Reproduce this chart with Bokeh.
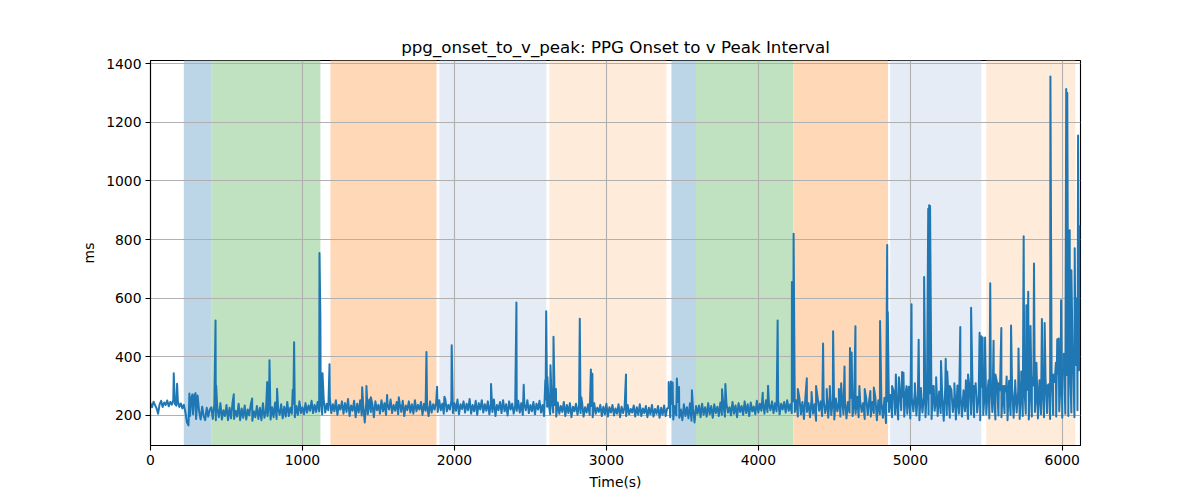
import numpy as np
from bokeh.plotting import figure
from bokeh.models import BoxAnnotation, Range1d, FixedTicker
from bokeh.embed import file_html
from bokeh.resources import INLINE

# ---------------- data ----------------
title_text = "ppg_onset_to_v_peak: PPG Onset to v Peak Interval"
x_label = "Time(s)"
y_label = "ms"
x_ticks = [0, 1000, 2000, 3000, 4000, 5000, 6000]
y_ticks = [200, 400, 600, 800, 1000, 1200, 1400]

# phase shading (start s, end s, colour)
phase_start = [219, 399, 1184, 1901, 2625, 3428, 3590, 4230, 4868, 5500]
phase_end = [399, 1118, 1882, 2605, 3395, 3590, 4230, 4853, 5467, 6086]
phase_color = ["#bcd6e8", "#c0e2c0", "#ffd9b7", "#e5ecf6", "#ffebd9",
               "#bcd6e8", "#c0e2c0", "#ffd9b7", "#e5ecf6", "#ffebd9"]

sample_step = 10  # seconds between baseline readings

base_0 = [242, 228, 247, 235, 224, 206, 238, 250, 229, 244, 236, 251, 231, 246, 237, 252, 240, 233, 248, 229, 241, 224]
base_1 = [236, 210, 176, 166, 198, 262, 204, 270, 188, 268, 214, 186, 230, 198, 184, 226, 196, 220]
base_2 = [228, 188, 238, 184, 222, 194, 242, 186, 218, 198, 236, 184, 226, 190, 244, 188, 216, 196, 240, 184,
          224, 192, 234, 186, 220, 200, 238, 182, 214, 194, 232, 188, 226, 184, 242, 192, 218, 198, 236, 186,
          228, 194, 244, 188, 222, 202, 238, 190, 230, 196, 246, 198, 226, 206, 240, 194, 232, 202, 248, 208,
          228, 204, 242, 210, 234, 216, 250, 208, 236, 212, 246, 214]
base_3 = [248, 204, 254, 210, 240, 218, 258, 208, 238, 214, 252, 202, 236, 220, 248, 206, 242, 212, 256, 198,
          234, 216, 250, 194, 240, 210, 252, 200, 232, 176, 246, 204, 254, 212, 238, 194, 248, 218, 236, 206,
          252, 214, 242, 202, 238, 220, 254, 208, 236, 216, 246, 204, 240, 212, 250, 198, 234, 218, 248, 210,
          238, 206, 252, 214, 236, 220, 246, 202, 240, 216, 234, 198, 248, 210, 238, 220]
base_4 = [246, 212, 252, 218, 240, 206, 256, 214, 236, 220, 250, 208, 242, 216, 254, 204, 238, 222, 248, 210,
          240, 218, 256, 206, 236, 214, 250, 202, 242, 220, 252, 210, 238, 216, 248, 204, 240, 212, 254, 198,
          236, 218, 246, 208, 252, 214, 238, 200, 248, 220, 240, 206, 234, 216, 250, 210, 242, 202, 238, 218,
          252, 208, 236, 214, 246, 204, 240, 220, 250, 210, 236, 198, 254, 230]
base_5 = [242, 204, 248, 210, 236, 196, 244, 206, 232, 212, 246, 198, 236, 208, 242, 194, 230, 214, 240, 202,
          234, 208, 244, 196, 228, 210, 238, 202, 232, 194, 242, 206, 226, 212, 236, 198, 230, 204, 240, 196,
          228, 210, 236, 200, 224, 206, 238, 194, 230, 208, 228, 198, 236, 204, 222, 210, 234, 196, 228, 202,
          238, 198, 224, 208, 232, 194, 226, 204, 236, 196, 222, 206, 232, 192, 226, 202, 234, 198, 224]
base_6 = [226, 194, 240, 186, 232, 200, 246, 192, 220, 184, 238, 198, 228, 190, 242, 182, 224, 176, 232]
base_7 = [206, 234, 194, 240, 202, 228, 196, 242, 204, 232, 192, 238, 208, 230, 198, 244, 202, 236, 196, 240,
          210, 228, 200, 246, 206, 234, 194, 242, 212, 232, 202, 248, 208, 238, 198, 244, 214, 230, 204, 250,
          210, 240, 216, 246, 206, 252, 212, 238, 218, 248, 208, 242, 214, 254, 204, 240, 220, 246, 210, 252,
          216, 238, 208, 248]
base_8 = [212, 252, 196, 260, 204, 246, 188, 264, 212, 242, 194, 256, 206, 238, 182, 262, 216, 248, 198, 254,
          208, 240, 192, 266, 202, 250, 186, 258, 214, 244, 196, 262, 204, 252, 190, 246, 210, 260, 198, 238,
          206, 264, 194, 250, 212, 242, 188, 258, 202, 254, 196, 246, 208, 262, 184, 252, 204, 244, 192, 260,
          174, 248]
base_9 = [212, 270, 194, 284, 204, 256, 186, 292, 218, 264, 196, 278, 206, 298, 190, 260, 214, 286, 200, 272,
          184, 294, 210, 262, 194, 290, 204, 276, 188, 300, 216, 258, 198, 282, 208, 268, 182, 296, 202, 274,
          192, 288, 212, 264, 186, 302, 206, 272, 196, 286, 214, 260, 188, 294, 204, 278, 194, 290, 210, 266,
          184, 298, 202, 280]
base_10 = [204, 292, 190, 306, 212, 278, 186, 314, 200, 286, 194, 300, 208, 282, 184, 318, 202, 292, 192, 308,
           210, 284, 188, 322, 198, 298, 206, 288, 186, 316, 196, 302, 212, 290, 190, 320, 204, 296, 194, 324,
           208, 306, 188, 332, 202, 314, 196, 342, 214, 328, 192, 352, 206, 338, 198, 362, 210, 346, 194, 372,
           218, 354]

# isolated spikes (time s, value ms)
spike_t = [153, 175, 256, 276, 296, 428, 432, 548, 669, 768, 783, 833, 936, 945,
           1112, 1118, 1132, 1178, 1393, 1421, 1450, 1557, 1634, 1816, 1886,
           1934, 1982, 2241, 2408, 2456, 2598, 2604, 2612, 2632, 2652, 2668,
           2825, 2835, 2898, 2908, 3129, 3410, 3425, 3436, 3464, 3478, 3563,
           3761, 3783, 4029, 4064, 4127, 4221, 4232, 4260, 4319, 4350, 4380,
           4426, 4450, 4470, 4492, 4530, 4545, 4567, 4603, 4614, 4639, 4665,
           4700, 4737, 4760, 4801, 4848, 4852, 4880, 4905, 4925, 4946, 4955,
           4975, 5008, 5030, 5055, 5070, 5091, 5118, 5124, 5130, 5154, 5170,
           5202, 5233, 5243, 5260, 5290, 5310, 5329, 5366, 5380, 5400, 5420,
           5430, 5456, 5467, 5476, 5492, 5515, 5526, 5548, 5560, 5583, 5599,
           5620, 5634, 5650, 5663, 5690, 5712, 5730, 5746, 5764, 5776, 5791,
           5800, 5814, 5830, 5850, 5866, 5884, 5900, 5922, 5940, 5958, 5967,
           5977, 5992, 6000, 6010, 6026, 6033, 6040, 6049, 6060, 6070, 6082,
           6087, 6092, 6098, 6104, 6113]
spike_v = [344, 308, 275, 272, 276, 524, 302, 272, 258, 314, 388, 291, 288, 450,
           754, 531, 344, 375, 296, 300, 262, 270, 262, 416, 298,
           264, 439, 307, 585, 305, 320, 555, 331, 371, 468, 290,
           530, 262, 357, 342, 340, 314, 316, 312, 326, 297, 286,
           289, 307, 277, 301, 524, 655, 820, 290, 327, 280, 300,
           445, 290, 300, 487, 290, 310, 367, 430, 415, 504, 300,
           290, 283, 295, 522, 781, 553, 300, 340, 330, 348, 346,
           300, 579, 310, 458, 290, 672, 905, 917, 914, 300, 330,
           386, 393, 350, 300, 310, 290, 502, 320, 340, 567, 300,
           310, 482, 470, 466, 466, 320, 651, 455, 340, 310, 498,
           300, 333, 290, 507, 320, 428, 350, 811, 576, 622, 505,
           330, 718, 380, 320, 529, 515, 300, 1356, 340, 380, 460,
           462, 593, 360, 410, 1313, 1300, 480, 832, 695, 420, 770,
           380, 600, 470, 1155, 849]

# ---------------- assemble ----------------
base_v = np.array(base_0 + base_1 + base_2 + base_3 + base_4 + base_5 + base_6
                  + base_7 + base_8 + base_9 + base_10, dtype=float)
base_t = np.arange(len(base_v)) * sample_step
all_t = np.concatenate([base_t, np.array(spike_t, dtype=float)])
all_v = np.concatenate([base_v, np.array(spike_v, dtype=float)])
order = np.argsort(all_t, kind="stable")
t = all_t[order]
v = all_v[order]

FONT = "DejaVu Sans"

p = figure(width=1200, height=500, output_backend="svg", toolbar_location=None,
           x_range=Range1d(0, 6120), y_range=Range1d(97.5, 1410.5),
           min_border_left=150, min_border_right=120, min_border_top=60,
           min_border_bottom=55, title=title_text)

p.title.text_font = FONT
p.title.text_font_size = "16.7px"
p.title.text_font_style = "normal"
p.title.align = "center"
p.title.text_color = "black"
p.title.standoff = 8

for s, e, c in zip(phase_start, phase_end, phase_color):
    p.add_layout(BoxAnnotation(left=s, right=e, fill_color=c, fill_alpha=1.0,
                               line_color=None, level="image"))

p.line(t, v, line_color="#1f77b4", line_width=2, line_join="round")

p.xaxis.ticker = FixedTicker(ticks=x_ticks)
p.yaxis.ticker = FixedTicker(ticks=y_ticks)
p.xaxis.axis_label = x_label
p.yaxis.axis_label = y_label
for ax in (p.xaxis, p.yaxis):
    ax.axis_label_text_font = FONT
    ax.axis_label_text_font_size = "13.9px"
    ax.axis_label_text_font_style = "normal"
    ax.axis_label_text_color = "black"
    ax.major_label_text_font = FONT
    ax.major_label_text_font_size = "13.9px"
    ax.major_label_text_color = "black"
    ax.axis_line_color = "black"
    ax.axis_line_width = 1.1
    ax.major_tick_line_color = "black"
    ax.major_tick_line_width = 1.1
    ax.major_tick_out = 5
    ax.major_tick_in = 0
    ax.minor_tick_line_color = None
    ax.major_label_standoff = 4
    ax.axis_label_standoff = 6

p.xgrid.grid_line_color = "#b0b0b0"
p.ygrid.grid_line_color = "#b0b0b0"
p.xgrid.grid_line_width = 1.1
p.ygrid.grid_line_width = 1.1
p.outline_line_color = "black"
p.outline_line_width = 1.1
p.background_fill_color = "white"
p.border_fill_color = "white"

open("out.html", "w").write(file_html(p, INLINE))
